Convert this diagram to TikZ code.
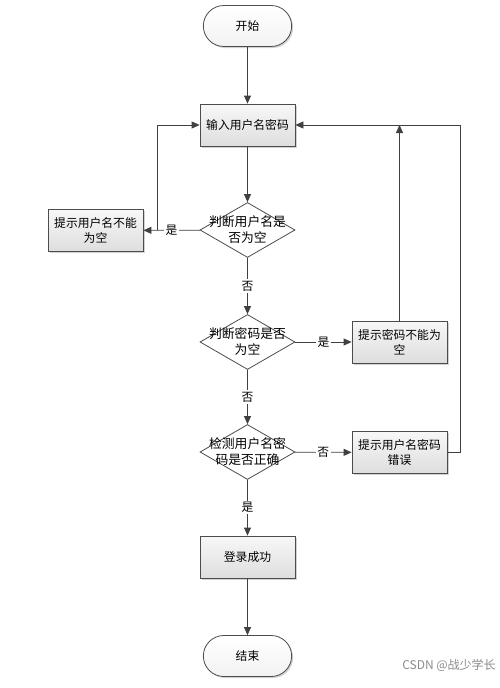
\documentclass[tikz,border=0pt]{standalone}
\usepackage{fontspec}
\setmainfont{Noto Sans CJK SC}
\usetikzlibrary{shapes.geometric,shapes.misc,arrows.meta,shadows}
\newcommand{\fsz}{\fontsize{11.8}{15}\selectfont}
\newcommand{\dfsz}{\fontsize{12.8}{16}\selectfont}
\begin{document}
\begin{tikzpicture}[x=1pt,y=-1pt,
  line/.style={draw=black!75, line width=0.8pt},
  arr/.style={line, -{Triangle[length=8pt,width=7pt]}},
  shad/.style={drop shadow={shadow xshift=1.5pt, shadow yshift=-1.5pt, opacity=0.35, fill=black!50}},
  box/.style={rectangle, draw=black!70, line width=0.8pt, minimum width=95pt, minimum height=42pt,
    top color=black!3, bottom color=black!13, shad, align=center, font=\fsz, inner sep=2pt},
  term/.style={rounded rectangle, draw=black!70, line width=0.8pt, minimum width=95pt, minimum height=41pt,
    top color=white, bottom color=black!5, shad, font=\fsz},
  dia/.style={diamond, draw=black!70, line width=0.8pt, fill=white, minimum width=95pt, minimum height=55pt, inner sep=0pt},
  dtxt/.style={align=center, font=\dfsz, inner sep=0pt},
  lab/.style={fill=white, font=\fsz, inner sep=1.5pt}]
\useasboundingbox[fill=white] (0,0) rectangle (500,688);

\node[term] (start) at (247.5,26) {开始};
\node[box] (input) at (247.5,125) {输入用户名密码};
\node[dia] (d1) at (247.5,230) {};
\node[dtxt] (d1t) at (d1) {判断用户名是\\否为空};
\node[box] (e1) at (95.5,230.5) {提示用户名不能\\为空};
\node[dia] (d2) at (247.5,342) {};
\node[dtxt] (d2t) at (d2) {判断密码是否\\为空};
\node[box] (e2) at (399.5,342) {提示密码不能为\\空};
\node[dia] (d3) at (247.5,452) {};
\node[dtxt] (d3t) at (d3) {检测用户名密\\码是否正确};
\node[box] (e3) at (399.5,452.5) {提示用户名密码\\错误};
\node[box] (ok) at (247.5,557) {登录成功};
\node[term] (end) at (247.5,656) {结束};

\coordinate (j1) at (157,230);
\coordinate (c1) at (157,125);
\coordinate (t2) at (399.5,125);
\coordinate (r3) at (460,452.5);
\coordinate (r3t) at (460,125);

\draw[arr] (start) -- (input);
\draw[arr] (input) -- (d1);
\draw[arr] (d1) -- node[lab, pos=0.5] {是} (e1);
\draw[arr] (j1) -- (c1) -- (input.west);
\draw[arr] (d1) -- node[lab] {否} (d2);
\draw[arr] (d2) -- node[lab] {是} (e2);
\draw[arr] (e2) -- (t2);
\draw[arr] (d2) -- node[lab] {否} (d3);
\draw[arr] (d3) -- node[lab] {否} (e3);
\draw[arr] (e3.east) -- (r3) -- (r3t) -- (input.east);
\draw[arr] (d3) -- node[lab] {是} (ok);
\draw[arr] (ok) -- (end);

\node[font=\fontsize{12}{14}\selectfont, text=black!45] (wm) at (449,665) {CSDN @战少学长};
\end{tikzpicture}
\end{document}
